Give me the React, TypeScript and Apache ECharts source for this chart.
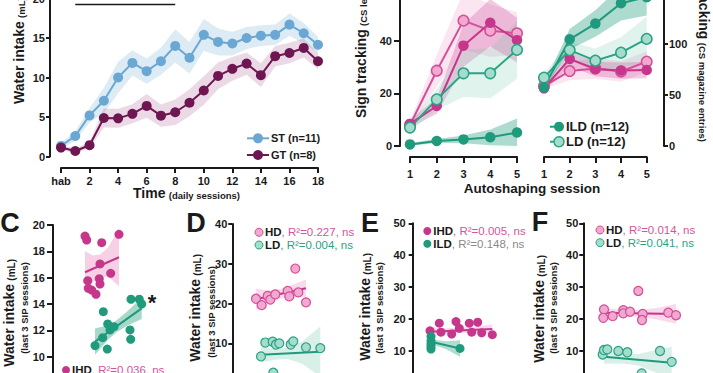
import React, { useEffect, useRef } from "react";
import * as echarts from "echarts";

const FONT = "'Liberation Sans', Arial, Helvetica, sans-serif";
const INK = "#1a1a1a";

// ---------- colours ----------
const ST = "#6aa8d3";
const ST_BAND = "rgba(120,175,215,0.25)";
const GT = "#6e1652";
const GT_BAND = "rgba(170,80,140,0.22)";
const IHD = "#c6368a";
const IHD_BAND = "rgba(205,70,150,0.28)";
const HD_FILL = "#f2a9cf";
const HD_EDGE = "#d24f99";
const HD_BAND = "rgba(240,150,200,0.25)";
const ILD = "#1f9a7d";
const ILD_BAND = "rgba(40,160,128,0.38)";
const LD_FILL = "#a6dccb";
const LD_EDGE = "#2aa386";
const LD_BAND = "rgba(120,200,175,0.22)";

// ---------- Panel A: water intake over SIP sessions ----------
const timeSessions = [0, 1, 2, 3, 4, 5, 6, 7, 8, 9, 10, 11, 12, 13, 14, 15, 16, 17, 18];
const habLabel = "hab";
const stMean = [1.34, 2.6, 5.2, 7.06, 10.0, 11.85, 10.8, 12.06, 14.0, 12.5, 15.4, 14.5, 14.3, 15.0, 15.3, 15.4, 16.7, 15.6, 14.15];
const stSem = [0.4, 0.6, 0.9, 1.6, 2.0, 1.6, 1.6, 1.7, 2.1, 2.0, 2.0, 1.7, 1.5, 1.4, 1.3, 1.3, 1.4, 1.3, 1.0];
const gtMean = [1.13, 0.7, 1.43, 4.87, 4.83, 5.4, 6.4, 5.17, 5.6, 6.8, 8.36, 10.2, 11.1, 11.76, 10.3, 12.7, 13.1, 13.74, 12.06];
const gtSem = [0.3, 0.3, 0.4, 1.2, 1.2, 1.2, 1.5, 1.4, 1.6, 1.7, 1.8, 1.7, 1.5, 1.4, 1.5, 1.3, 1.3, 1.2, 1.0];
const sigBar = [[1, 19.25], [8, 19.25]];
const legendA = ["ST (n=11)", "GT (n=8)"];

// ---------- Panel B: autoshaping ----------
const autoSessions = [1, 2, 3, 4, 5];
const signIHD = [8.4, 15.2, 38.1, 46.8, 40.2];
const signIHDSem = [1.5, 3, 8, 9, 8.5];
const signHD = [8.0, 28.6, 47.6, 43.8, 42.8];
const signHDSem = [1.5, 6, 11, 10, 8];
const signLD = [7.0, 17.7, 27.6, 27.6, 36.5];
const signLDSem = [1.5, 4, 9, 9.5, 11];
const signILD = [0.6, 1.9, 2.5, 3.3, 5.1];
const signILDSem = [0.5, 0.8, 1.5, 3, 5.3];
const goalILD = [57.5, 104.6, 120, 140, 146];
const goalILDSem = [3, 10, 13, 17, 18];
const goalLD = [67, 94, 83.7, 91.5, 105];
const goalLDSem = [4, 8, 12, 15, 22];
const goalIHD = [56.5, 85.3, 75.5, 73.9, 74.5];
const goalIHDSem = [3, 7, 7, 8, 8];
const goalHD = [58.8, 73.5, 76, 73, 82.7];
const goalHDSem = [3, 9, 10, 10, 10];
const legendB = ["ILD (n=12)", "LD (n=12)"];

// ---------- Panel C ----------
const cIHDx = [32, 33.7, 48.7, 66, 47, 57.7, 34.7, 46.3, 47, 35.3, 38.7, 43];
const cIHDy = [19.16, 18.86, 18.66, 19.29, 17.04, 16.33, 15.77, 15.92, 15.52, 15.19, 15.06, 14.74];
const cILDx = [78, 86.3, 88.7, 50.3, 54.7, 61, 57, 77, 49.7, 77.7, 42, 54.3];
const cILDy = [14.36, 14.36, 14.0, 13.42, 12.48, 12.28, 12.03, 12.03, 11.44, 11.32, 10.84, 10.58];
const cIHDFit = [[32, 16.41], [66, 17.55]];
const cIHDBandX = [32, 40, 47, 55, 66];
const cIHDBandLo = [14.81, 15.68, 16.06, 16.08, 15.35];
const cIHDBandHi = [18.01, 17.68, 17.76, 18.28, 19.75];
const cILDFit = [[42, 11.14], [88.7, 13.67]];
const cILDBandX = [42, 55, 63, 75, 88.7];
const cILDBandLo = [10.14, 11.29, 11.83, 12.38, 12.87];
const cILDBandHi = [12.14, 12.39, 12.73, 13.48, 14.47];

// ---------- Panel D ----------
const dHDx = [23.7, 29.4, 35.4, 38, 43, 55.4, 57, 63, 66, 73.7];
const dHDy = [21.2, 19.6, 21.9, 21.0, 22.3, 23.2, 21.8, 28.8, 22.8, 20.3];
const dLDx = [28.7, 33, 40.4, 43.7, 47, 58.4, 61, 73.7, 88, 41];
const dLDy = [6.7, 10.2, 10.4, 9.7, 10.0, 9.7, 10.5, 9.0, 8.8, 2.6];
const dHDFit = [[23.7, 21.1], [73.7, 23.85]];
const dHDBandX = [23.7, 36, 48, 60, 73.7];
const dHDBandLo = [18.5, 20.28, 21.24, 21.5, 21.65];
const dHDBandHi = [23.7, 23.28, 23.64, 24.7, 26.05];
const dLDFit = [[28.7, 7.1], [88, 7.9]];
const dLDBandX = [28.7, 42, 55, 70, 88];
const dLDBandLo = [5.1, 5.88, 6.05, 4.86, 1.6];
const dLDBandHi = [9.1, 8.68, 8.85, 10.46, 14.2];

// ---------- Panel E ----------
const eIHDx = [17.3, 26.6, 28.3, 39, 43.3, 46.6, 56.6, 59, 65, 69, 79.6];
const eIHDy = [16.3, 18.7, 15.9, 15.3, 19.2, 17.1, 18.7, 15.9, 19.0, 15.7, 15.1];
const eILDx = [18.3, 18.3, 18.3, 18.3, 18.3, 47.3];
const eILDy = [14.5, 13.2, 12.2, 11.3, 10.6, 10.8];
const eIHDFit = [[17.3, 16.0], [79.6, 16.9]];
const eIHDBandX = [17.3, 33, 48, 64, 79.6];
const eIHDBandLo = [14.5, 15.33, 15.64, 15.77, 15.4];
const eIHDBandHi = [17.5, 17.13, 17.24, 17.57, 18.4];
const eILDFit = [[18.3, 12.9], [47.3, 10.8]];
const eILDBandX = [18.3, 33, 47.3];
const eILDBandLo = [12.1, 10.64, 8.2];
const eILDBandHi = [13.7, 13.04, 13.4];

// ---------- Panel F ----------
const fHDx = [20.7, 20, 29.4, 40, 40, 46.7, 55, 59.4, 58.7, 85, 92.7];
const fHDy = [23.0, 20.4, 20.9, 22.8, 21.8, 22.3, 28.8, 21.6, 19.7, 22.0, 21.2];
const fLDx = [19.4, 20.7, 24, 35, 44, 76.7, 88.4, 58.4];
const fLDy = [8.9, 10.3, 10.5, 10.0, 9.6, 10.0, 6.6, 3.0];
const fHDFit = [[20.7, 22.0], [92.7, 21.6]];
const fHDBandX = [20.7, 38, 55, 74, 92.7];
const fHDBandLo = [20.5, 20.9, 20.81, 19.9, 18.5];
const fHDBandHi = [23.5, 22.9, 22.81, 23.5, 24.7];
const fLDFit = [[20.7, 8.2], [88.4, 6.3]];
const fLDBandX = [20.7, 38, 55, 72, 88.4];
const fLDBandLo = [6.0, 6.11, 5.44, 3.26, 1.3];
const fLDBandHi = [10.4, 9.31, 9.04, 10.26, 11.3];

// ---------- legend texts ----------
const statC = [{ grp: "IHD", r2: ", R²=0.036, ns", color: "#d4559c" }];
const statD = [
  { grp: "HD", r2: ", R²=0.227, ns", color: "#d4559c" },
  { grp: "LD", r2: ", R²=0.004, ns", color: "#2aa386" },
];
const statE = [
  { grp: "IHD", r2: ", R²=0.005, ns", color: "#d4559c" },
  { grp: "ILD", r2: ", R²=0.148, ns", color: "#8a8a8a" },
];
const statF = [
  { grp: "HD", r2: ", R²=0.014, ns", color: "#d4559c" },
  { grp: "LD", r2: ", R²=0.041, ns", color: "#2aa386" },
];

// ---------- helpers ----------
const pairs = (xs: number[], ys: number[]) => xs.map((x, i) => [x, ys[i]]);

function band(xIdx: number, yIdx: number, xs: number[], lo: number[], hi: number[], fill: string, floor = -Infinity) {
  return {
    type: "custom",
    xAxisIndex: xIdx,
    yAxisIndex: yIdx,
    z: 1,
    silent: true,
    clip: false,
    data: [[xs[0], hi[0]]],
    renderItem: (_p: any, api: any) => {
      const pts: number[][] = [];
      xs.forEach((x, i) => pts.push(api.coord([x, hi[i]])));
      for (let i = xs.length - 1; i >= 0; i--) pts.push(api.coord([xs[i], Math.max(floor, lo[i])]));
      return { type: "polygon", shape: { points: pts }, style: { fill, stroke: "none" } };
    },
  };
}

function semBand(xIdx: number, yIdx: number, xs: number[], mean: number[], sem: number[], fill: string) {
  return band(
    xIdx,
    yIdx,
    xs,
    mean.map((m, i) => m - sem[i]),
    mean.map((m, i) => m + sem[i]),
    fill,
    0
  );
}

function meanLine(name: string, xIdx: number, yIdx: number, xs: number[], ys: number[], color: string, fill: string, size: number) {
  return {
    type: "line",
    name,
    xAxisIndex: xIdx,
    yAxisIndex: yIdx,
    z: 4,
    data: pairs(xs, ys),
    symbol: "circle",
    symbolSize: size,
    showSymbol: true,
    lineStyle: { color, width: 2 },
    itemStyle: { color: fill, borderColor: color, borderWidth: fill === color ? 0 : 1.5 },
  };
}

function scatter(name: string, idx: number, xs: number[], ys: number[], fill: string, edge: string) {
  return {
    type: "scatter",
    name,
    xAxisIndex: idx,
    yAxisIndex: idx,
    z: 4,
    symbol: "circle",
    symbolSize: 9,
    data: pairs(xs, ys),
    itemStyle: { color: fill, borderColor: edge, borderWidth: fill === edge ? 0 : 1.2, opacity: 1 },
  };
}

function fit(idx: number, pts: number[][], color: string) {
  return {
    type: "line",
    xAxisIndex: idx,
    yAxisIndex: idx,
    z: 3,
    silent: true,
    data: pts,
    symbol: "none",
    lineStyle: { color, width: 2 },
  };
}

const axisLine = { show: true, onZero: false, lineStyle: { color: INK, width: 2 } };
const tickStyle = (len: number) => ({ show: true, length: len, lineStyle: { color: INK, width: 2 } });
const labelStyle = (margin: number) => ({ color: INK, fontFamily: FONT, fontWeight: "bold", fontSize: 11, margin });

function yAxisC(grid: number, min: number, max: number, interval: number, margin: number, tick: number) {
  return {
    type: "value",
    gridIndex: grid,
    min,
    max,
    interval,
    axisLine,
    axisTick: tickStyle(tick),
    axisLabel: labelStyle(margin),
    splitLine: { show: false },
  };
}

function txt(x: number, y: number, text: string, rich: any, opts: any = {}) {
  return {
    type: "text",
    x,
    y,
    rotation: opts.rotation || 0,
    z: 10,
    style: {
      text,
      rich,
      fill: INK,
      font: `bold 12px ${FONT}`,
      align: opts.align || "left",
      textAlign: opts.align || "left",
      verticalAlign: opts.va || "middle",
      textVerticalAlign: opts.va || "middle",
    },
  };
}

const big = (size: number) => ({ fontFamily: FONT, fontWeight: "bold", fontSize: size, fill: INK, verticalAlign: "bottom" });
const small = (size: number) => ({ fontFamily: FONT, fontWeight: "bold", fontSize: size, fill: INK, verticalAlign: "bottom" });

function yName(x: number, yTop: number, x2: number, y2: number) {
  return [
    txt(x, yTop, "{a|Water intake} {b|(mL)}", { a: big(14), b: small(10) }, { rotation: Math.PI / 2, align: "right" }),
    txt(x2, y2, "{c|(last 3 SIP sessions)}", { c: small(9.5) }, { rotation: Math.PI / 2, align: "center" }),
  ];
}

function statLegend(x: number, y0: number, rows: { grp: string; r2: string; color: string }[], fills: string[], edges: string[]) {
  const out: any[] = [];
  rows.forEach((r, i) => {
    const y = y0 + i * 12.7;
    out.push({
      type: "circle",
      shape: { cx: x, cy: y, r: 4 },
      z: 10,
      style: { fill: fills[i], stroke: edges[i], lineWidth: fills[i] === edges[i] ? 0 : 1 },
    });
    out.push(
      txt(x + 6, y, `{g|${r.grp}}{r|${r.r2}}`, {
        g: { fontFamily: FONT, fontWeight: "bold", fontSize: 11.5, fill: INK },
        r: { fontFamily: FONT, fontWeight: "normal", fontSize: 11.5, fill: r.color },
      })
    );
  });
  return out;
}

// line + marker legend entry (panels A and B)
function lineLegend(x0: number, x1: number, cx: number, y: number, label: string, color: string, fill: string, r: number, size: number) {
  return [
    { type: "line", z: 10, shape: { x1: x0, y1: y, x2: x1, y2: y }, style: { stroke: color, lineWidth: 2 } },
    {
      type: "circle",
      z: 11,
      shape: { cx, cy: y, r },
      style: { fill, stroke: color, lineWidth: fill === color ? 0 : 1.5 },
    },
    txt(x1 + 2, y, `{t|${label}}`, { t: { fontFamily: FONT, fontWeight: "bold", fontSize: size, fill: INK } }),
  ];
}

const panelLetter = (x: number, y: number, t: string) =>
  txt(x, y, `{p|${t}}`, { p: { fontFamily: FONT, fontWeight: "bold", fontSize: 27, fill: INK } }, { align: "center" });

const gridBox = (left: number, top: number, width: number, height: number) => ({
  left,
  top,
  width,
  height,
  outerBoundsMode: "none",
  containLabel: false,
});

export default function App() {
  const ref = useRef<HTMLDivElement>(null);

  useEffect(() => {
    if (!ref.current) return;
    const chart = echarts.init(ref.current, null, { renderer: "svg" });

    const option: any = {
      animation: false,
      backgroundColor: "#ffffff",
      textStyle: { fontFamily: FONT },
      grid: [
        gridBox(61, -1.5, 257, 158),
        gridBox(410, -12, 107, 158),
        gridBox(544, -7, 102.7, 153),
        gridBox(53, 225, 100, 158),
        gridBox(232.3, 224, 100, 159.1),
        gridBox(412.7, 223.3, 100, 159.6),
        gridBox(583.3, 223.3, 100, 159.6),
      ],
      xAxis: [
        {
          type: "value",
          gridIndex: 0,
          min: 0,
          max: 18,
          interval: 2,
          offset: 11.5,
          axisLine,
          axisTick: tickStyle(5),
          axisLabel: { ...labelStyle(7), formatter: (v: number) => (v === 0 ? habLabel : String(v)) },
          splitLine: { show: false },
        },
        {
          type: "value",
          gridIndex: 1,
          min: 1,
          max: 5,
          interval: 1,
          offset: 11,
          axisLine,
          axisTick: tickStyle(6),
          axisLabel: labelStyle(11),
          splitLine: { show: false },
        },
        {
          type: "value",
          gridIndex: 2,
          min: 1,
          max: 5,
          interval: 1,
          offset: 11,
          axisLine,
          axisTick: tickStyle(6),
          axisLabel: labelStyle(11),
          splitLine: { show: false },
        },
        { type: "value", gridIndex: 3, min: 0, max: 100, show: false },
        { type: "value", gridIndex: 4, min: 0, max: 100, show: false },
        { type: "value", gridIndex: 5, min: 0, max: 100, show: false },
        { type: "value", gridIndex: 6, min: 0, max: 100, show: false },
      ],
      yAxis: [
        { ...yAxisC(0, 0, 20, 5, 5, 4), offset: 11 },
        { ...yAxisC(1, 0, 60, 20, 8, 6), offset: 10 },
        { ...yAxisC(2, 0, 150, 50, 5, 4), position: "right", offset: 17.3 },
        yAxisC(3, 8, 20, 2, 8, 6),
        yAxisC(4, 0, 40, 10, 5, 4),
        yAxisC(5, 0, 50, 10, 7, 4),
        yAxisC(6, 0, 50, 10, 5, 4),
      ],
      series: [
        // Panel A
        semBand(0, 0, timeSessions, stMean, stSem, ST_BAND),
        semBand(0, 0, timeSessions, gtMean, gtSem, GT_BAND),
        meanLine(legendA[0], 0, 0, timeSessions, stMean, ST, ST, 10),
        meanLine(legendA[1], 0, 0, timeSessions, gtMean, GT, GT, 10),
        {
          type: "line",
          xAxisIndex: 0,
          yAxisIndex: 0,
          data: sigBar,
          symbol: "none",
          silent: true,
          lineStyle: { color: INK, width: 1.5 },
        },
        // Panel B – sign tracking
        semBand(1, 1, autoSessions, signHD, signHDSem, HD_BAND),
        semBand(1, 1, autoSessions, signIHD, signIHDSem, IHD_BAND),
        semBand(1, 1, autoSessions, signLD, signLDSem, LD_BAND),
        semBand(1, 1, autoSessions, signILD, signILDSem, ILD_BAND),
        meanLine("HD", 1, 1, autoSessions, signHD, HD_EDGE, HD_FILL, 10.5),
        meanLine("IHD", 1, 1, autoSessions, signIHD, IHD, IHD, 10.5),
        meanLine(legendB[1], 1, 1, autoSessions, signLD, LD_EDGE, LD_FILL, 10.5),
        meanLine(legendB[0], 1, 1, autoSessions, signILD, ILD, ILD, 10.5),
        // Panel B – goal tracking
        semBand(2, 2, autoSessions, goalHD, goalHDSem, HD_BAND),
        semBand(2, 2, autoSessions, goalIHD, goalIHDSem, IHD_BAND),
        semBand(2, 2, autoSessions, goalLD, goalLDSem, LD_BAND),
        semBand(2, 2, autoSessions, goalILD, goalILDSem, ILD_BAND),
        meanLine("HD", 2, 2, autoSessions, goalHD, HD_EDGE, HD_FILL, 10.5),
        meanLine("IHD", 2, 2, autoSessions, goalIHD, IHD, IHD, 10.5),
        meanLine(legendB[1], 2, 2, autoSessions, goalLD, LD_EDGE, LD_FILL, 10.5),
        meanLine(legendB[0], 2, 2, autoSessions, goalILD, ILD, ILD, 10.5),
        // Panel C
        band(3, 3, cIHDBandX, cIHDBandLo, cIHDBandHi, "rgba(238,150,200,0.45)"),
        band(3, 3, cILDBandX, cILDBandLo, cILDBandHi, "rgba(60,170,140,0.45)"),
        fit(3, cIHDFit, IHD),
        fit(3, cILDFit, ILD),
        scatter("IHD C", 3, cIHDx, cIHDy, IHD, IHD),
        scatter("ILD C", 3, cILDx, cILDy, ILD, ILD),
        // Panel D
        band(4, 4, dHDBandX, dHDBandLo, dHDBandHi, "rgba(240,160,205,0.4)"),
        band(4, 4, dLDBandX, dLDBandLo, dLDBandHi, "rgba(130,205,180,0.3)"),
        fit(4, dHDFit, IHD),
        fit(4, dLDFit, ILD),
        scatter("HD D", 4, dHDx, dHDy, HD_FILL, HD_EDGE),
        scatter("LD D", 4, dLDx, dLDy, LD_FILL, LD_EDGE),
        // Panel E
        band(5, 5, eIHDBandX, eIHDBandLo, eIHDBandHi, "rgba(240,160,205,0.4)"),
        band(5, 5, eILDBandX, eILDBandLo, eILDBandHi, "rgba(60,170,140,0.4)"),
        fit(5, eIHDFit, IHD),
        fit(5, eILDFit, ILD),
        scatter("IHD E", 5, eIHDx, eIHDy, IHD, IHD),
        scatter("ILD E", 5, eILDx, eILDy, ILD, ILD),
        // Panel F
        band(6, 6, fHDBandX, fHDBandLo, fHDBandHi, "rgba(240,160,205,0.4)"),
        band(6, 6, fLDBandX, fLDBandLo, fLDBandHi, "rgba(130,205,180,0.3)"),
        fit(6, fHDFit, IHD),
        fit(6, fLDFit, ILD),
        scatter("HD F", 6, fHDx, fHDy, HD_FILL, HD_EDGE),
        scatter("LD F", 6, fLDx, fLDy, LD_FILL, LD_EDGE),
      ],
      graphic: [
        // Panel A titles
        txt(19, 104, "{a|Water intake} {b|(mL)}", { a: big(14), b: small(9.5) }, { rotation: Math.PI / 2 }),
        txt(133, 193, "{a|Time} {b|(daily sessions)}", { a: big(14), b: small(9.5) }),
        // Panel A legend
        ...lineLegend(247, 269, 258, 138.3, legendA[0], ST, ST, 5, 11),
        ...lineLegend(247, 269, 258, 155, legendA[1], GT, GT, 5, 11),
        // Panel B titles
        txt(361, 118, "{a|Sign tracking} {b|(CS lever presses)}", { a: big(14), b: small(9.5) }, { rotation: Math.PI / 2 }),
        txt(704, 142, "{a|Goal tracking} {b|(CS magazine entries)}", { a: big(14), b: small(9.5) }, { rotation: -Math.PI / 2, align: "right" }),
        txt(532, 188, "{a|Autoshaping session}", { a: big(13.5) }, { align: "center" }),
        // Panel B legend
        ...lineLegend(550, 564, 559, 126.7, legendB[0], ILD, ILD, 5, 13),
        ...lineLegend(550, 564, 559, 141.7, legendB[1], LD_EDGE, LD_FILL, 5, 13),
        // Panel letters
        panelLetter(10, 223, "C"),
        panelLetter(196, 223, "D"),
        panelLetter(370, 223, "E"),
        panelLetter(540, 222, "F"),
        // y names C-F
        ...yName(9, 259, 24, 308),
        ...yName(195, 254, 211, 312),
        ...yName(365, 253, 379, 308),
        ...yName(539, 255, 553, 308),
        // asterisk
        txt(152, 302, "{s|*}", { s: { fontFamily: FONT, fontWeight: "bold", fontSize: 22, fill: INK } }, { align: "center" }),
        // stat legends
        ...statLegend(66, 370, statC, [IHD], [IHD]),
        ...statLegend(259, 232.3, statD, [HD_FILL, LD_FILL], [HD_EDGE, LD_EDGE]),
        ...statLegend(427.3, 231, statE, [IHD, ILD], [IHD, ILD]),
        ...statLegend(600, 230, statF, [HD_FILL, LD_FILL], [HD_EDGE, LD_EDGE]),
      ],
    };

    chart.setOption(option);
    return () => chart.dispose();
  }, []);

  return (
    <div
      ref={ref}
      style={{ position: "fixed", left: 0, top: 0, width: 713, height: 373, background: "#fff" }}
    />
  );
}
